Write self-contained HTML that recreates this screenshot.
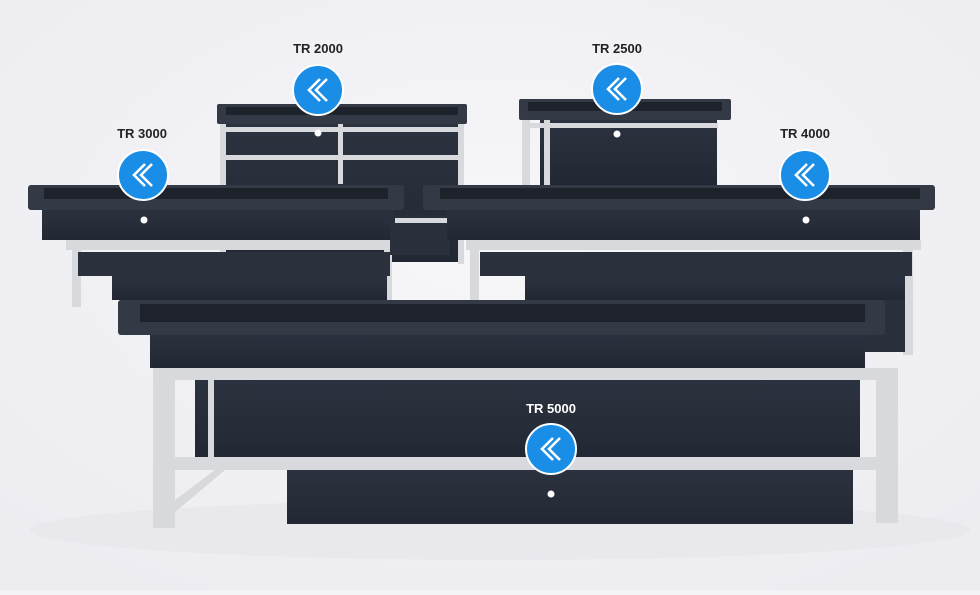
<!DOCTYPE html>
<html><head><style>
html,body{margin:0;padding:0;}
body{width:980px;height:590px;overflow:hidden;background:#f3f3f6;font-family:"Liberation Sans",sans-serif;}
</style></head><body>
<svg width="980" height="590" viewBox="0 0 980 590" xmlns="http://www.w3.org/2000/svg">
<defs>
<radialGradient id="bg" cx="50%" cy="40%" r="70%"><stop offset="0" stop-color="#f7f7fa"/><stop offset="1" stop-color="#ececf1"/></radialGradient>
<linearGradient id="tk" x1="0" y1="0" x2="0" y2="1"><stop offset="0" stop-color="#2c3340"/><stop offset="1" stop-color="#222833"/></linearGradient>
<g id="ic"><circle r="25" fill="#1a8ee6" stroke="#fff" stroke-width="2"/><path d="M2,-11 L-9,0 L2,11 M9,-11 L-2,0 L9,11" fill="none" stroke="#fff" stroke-width="2.6"/></g>
</defs>
<rect width="980" height="590" fill="url(#bg)"/>
<ellipse cx="500" cy="530" rx="470" ry="30" fill="#e8e8ed"/>
<!-- TR2000 -->
<rect x="226" y="122" width="234" height="140" fill="url(#tk)"/>
<rect x="217" y="104" width="250" height="20" rx="2" fill="#333a46"/>
<rect x="226" y="107" width="232" height="8" fill="#1d222b"/>
<g fill="#d7d9dc"><rect x="220" y="124" width="6" height="140"/><rect x="458" y="124" width="6" height="140"/><rect x="220" y="127" width="244" height="5"/><rect x="220" y="155" width="244" height="5"/><rect x="338" y="124" width="5" height="60"/></g>
<!-- TR2500 -->
<rect x="540" y="118" width="177" height="68" fill="url(#tk)"/>
<rect x="519" y="99" width="212" height="21" rx="2" fill="#333a46"/>
<rect x="528" y="102" width="194" height="9" fill="#1d222b"/>
<g fill="#d7d9dc"><rect x="522" y="120" width="8" height="66"/><rect x="544" y="120" width="6" height="66"/><rect x="522" y="123" width="196" height="5"/></g>
<!-- TR3000 -->
<g fill="#d7d9dc"><rect x="72" y="245" width="9" height="62"/><rect x="384" y="245" width="8" height="55"/><rect x="66" y="240" width="336" height="10"/></g>
<rect x="78" y="252" width="312" height="24" fill="#2a313c"/>
<rect x="112" y="276" width="275" height="24" fill="url(#tk)"/>
<rect x="42" y="206" width="352" height="34" fill="url(#tk)"/>
<rect x="28" y="185" width="376" height="25" rx="3" fill="#333a46"/>
<rect x="44" y="188" width="344" height="11" fill="#1d222b"/>
<rect x="390" y="215" width="60" height="40" fill="#2a303b"/>
<rect x="395" y="218" width="55" height="5" fill="#d7d9dc"/>
<!-- TR4000 -->
<g fill="#d7d9dc"><rect x="466" y="240" width="455" height="10"/><rect x="470" y="245" width="9" height="55"/><rect x="903" y="245" width="10" height="110"/></g>
<rect x="480" y="252" width="432" height="24" fill="#2a313c"/>
<rect x="525" y="276" width="380" height="24" fill="url(#tk)"/>
<rect x="447" y="206" width="473" height="34" fill="url(#tk)"/>
<rect x="423" y="185" width="512" height="25" rx="3" fill="#333a46"/>
<rect x="440" y="188" width="480" height="11" fill="#1d222b"/>
<rect x="865" y="300" width="40" height="52" fill="#2a303b"/>
<!-- TR5000 -->
<rect x="195" y="378" width="665" height="80" fill="url(#tk)"/>
<rect x="287" y="468" width="566" height="56" fill="url(#tk)"/>
<g fill="#d7d9dc"><rect x="153" y="368" width="745" height="12"/><rect x="153" y="368" width="22" height="160"/><rect x="876" y="368" width="22" height="155"/><rect x="172" y="457" width="708" height="13"/><rect x="208" y="380" width="6" height="78"/><polygon points="175,500 215,470 225,470 175,512"/></g>
<rect x="150" y="330" width="715" height="38" fill="url(#tk)"/>
<rect x="118" y="300" width="767" height="35" rx="3" fill="#333a46"/>
<rect x="140" y="304" width="725" height="18" fill="#1d222b"/>
<!-- dots -->
<g fill="#fff"><circle cx="318" cy="133" r="3.5"/><circle cx="617" cy="134" r="3.5"/><circle cx="144" cy="220" r="3.5"/><circle cx="806" cy="220" r="3.5"/><circle cx="551" cy="494" r="3.5"/></g>
<!-- icons -->
<use href="#ic" x="318" y="90"/><use href="#ic" x="617" y="89"/><use href="#ic" x="143" y="175"/><use href="#ic" x="805" y="175"/><use href="#ic" x="551" y="449"/>
<g font-family="Liberation Sans, sans-serif" font-size="13" font-weight="bold" fill="#222" text-anchor="middle">
<text x="318" y="53">TR 2000</text><text x="617" y="53">TR 2500</text><text x="142" y="138">TR 3000</text><text x="805" y="138">TR 4000</text><text x="551" y="413" fill="#fff">TR 5000</text></g>
</svg>
</body></html>
